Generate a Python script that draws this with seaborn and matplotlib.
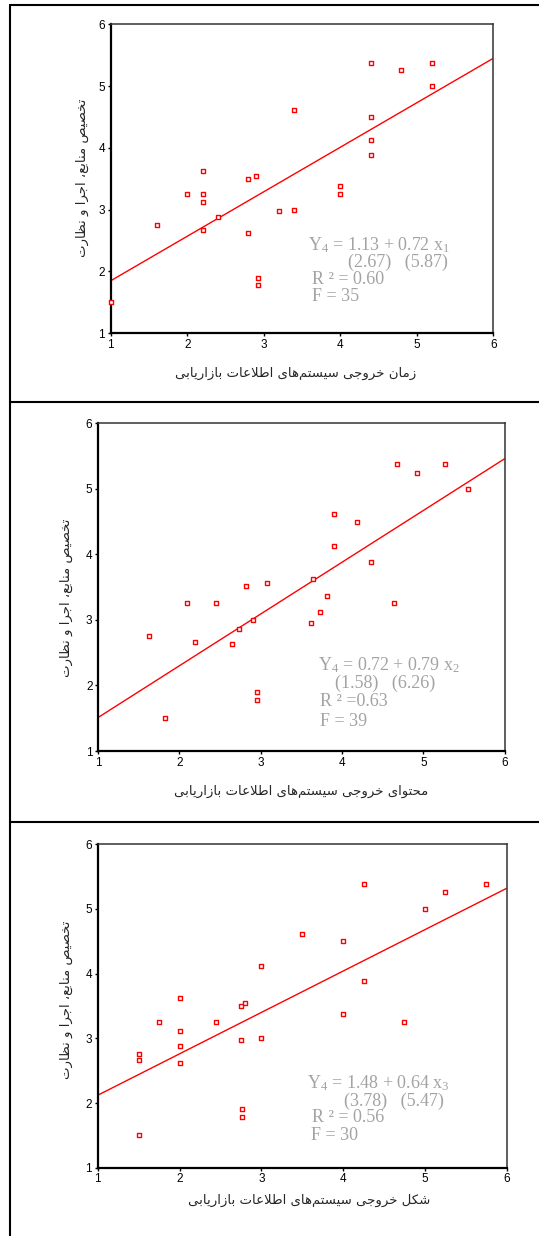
import matplotlib
matplotlib.use("Agg")
import matplotlib.pyplot as plt
from matplotlib.lines import Line2D
import seaborn as sns
import pandas as pd

# Data (same 25 respondents each)
x_time = [4.4, 4.8, 5.2, 5.2, 3.4, 4.4, 4.4, 4.4, 2.2, 2.9, 2.8, 4.0, 2.0, 2.2, 4.0,
          2.2, 3.2, 3.4, 2.4, 1.6, 2.2, 2.8, 2.92, 2.92, 1.0]
y_time = [5.38, 5.26, 5.38, 5.0, 4.62, 4.5, 4.12, 3.88, 3.62, 3.55, 3.5, 3.38, 3.26, 3.26, 3.26,
          3.12, 2.98, 3.0, 2.88, 2.76, 2.67, 2.62, 1.9, 1.78, 1.5]

x_content = [4.68, 4.92, 5.27, 5.55, 3.9, 4.19, 3.9, 4.36, 3.64, 3.08, 2.82, 3.81, 2.09, 2.45, 4.64,
             3.73, 2.91, 3.62, 2.73, 1.63, 2.19, 2.65, 2.96, 2.96, 1.82]
y_content = [5.38, 5.24, 5.38, 5.0, 4.62, 4.5, 4.13, 3.88, 3.63, 3.56, 3.51, 3.37, 3.26, 3.26, 3.26,
             3.12, 3.0, 2.96, 2.86, 2.75, 2.66, 2.63, 1.9, 1.78, 1.5]

x_form = [4.25, 5.25, 5.75, 5.0, 3.5, 4.0, 3.0, 4.25, 2.0, 2.8, 2.75, 4.0, 1.75, 2.45, 4.75,
          2.0, 2.75, 3.0, 2.0, 1.5, 1.5, 2.0, 2.77, 2.77, 1.5]
y_form = [5.38, 5.26, 5.38, 5.0, 4.62, 4.5, 4.12, 3.88, 3.62, 3.55, 3.5, 3.38, 3.26, 3.26, 3.26,
          3.12, 2.98, 3.0, 2.88, 2.76, 2.66, 2.62, 1.9, 1.78, 1.5]

intercepts = [1.13, 0.72, 1.48]
slopes = [0.72, 0.79, 0.64]
t_values = [("2.67", "5.87"), ("1.58", "6.26"), ("3.78", "5.47")]
r2_labels = ["R ² = 0.60", "R ² =0.63", "R ² = 0.56"]
f_values = [35, 39, 30]

x_labels = ["زمان خروجی سیستم‌های اطلاعات بازاریابی",
            "محتوای خروجی سیستم‌های اطلاعات بازاریابی",
            "شکل خروجی سیستم‌های اطلاعات بازاریابی"]
y_label = "تخصیص منابع، اجرا و نظارت"
ticks = [1, 2, 3, 4, 5, 6]

# Minimal Arabic/Persian shaping (matplotlib does not join letters itself)
FORMS = {
    'ا': ('\uFE8D', '\uFE8E', None, None),
    'ب': ('\uFE8F', '\uFE90', '\uFE91', '\uFE92'),
    'ت': ('\uFE95', '\uFE96', '\uFE97', '\uFE98'),
    'ج': ('\uFE9D', '\uFE9E', '\uFE9F', '\uFEA0'),
    'ح': ('\uFEA1', '\uFEA2', '\uFEA3', '\uFEA4'),
    'خ': ('\uFEA5', '\uFEA6', '\uFEA7', '\uFEA8'),
    'ر': ('\uFEAD', '\uFEAE', None, None),
    'ز': ('\uFEAF', '\uFEB0', None, None),
    'س': ('\uFEB1', '\uFEB2', '\uFEB3', '\uFEB4'),
    'ش': ('\uFEB5', '\uFEB6', '\uFEB7', '\uFEB8'),
    'ص': ('\uFEB9', '\uFEBA', '\uFEBB', '\uFEBC'),
    'ط': ('\uFEC1', '\uFEC2', '\uFEC3', '\uFEC4'),
    'ظ': ('\uFEC5', '\uFEC6', '\uFEC7', '\uFEC8'),
    'ع': ('\uFEC9', '\uFECA', '\uFECB', '\uFECC'),
    'ل': ('\uFEDD', '\uFEDE', '\uFEDF', '\uFEE0'),
    'م': ('\uFEE1', '\uFEE2', '\uFEE3', '\uFEE4'),
    'ن': ('\uFEE5', '\uFEE6', '\uFEE7', '\uFEE8'),
    'ه': ('\uFEE9', '\uFEEA', '\uFEEB', '\uFEEC'),
    'و': ('\uFEED', '\uFEEE', None, None),
    'ی': ('\uFBFC', '\uFBFD', '\uFBFE', '\uFBFF'),
    'ک': ('\uFB8E', '\uFB8F', '\uFB90', '\uFB91'),
}
LAM_ALEF = ('\uFEFB', '\uFEFC')


def shape(text):
    def dual(c):
        return c in FORMS and FORMS[c][2] is not None

    out = []
    i = 0
    while i < len(text):
        c = text[i]
        if c == '\u200c':
            i += 1
            continue
        if c not in FORMS:
            out.append(c)
            i += 1
            continue
        link_prev = i > 0 and dual(text[i - 1])
        if c == 'ل' and i + 1 < len(text) and text[i + 1] == 'ا':
            out.append(LAM_ALEF[1] if link_prev else LAM_ALEF[0])
            i += 2
            continue
        nxt = text[i + 1] if i + 1 < len(text) else ''
        link_next = dual(c) and nxt in FORMS
        iso, fin, ini, med = FORMS[c]
        if link_prev and link_next:
            out.append(med)
        elif link_prev:
            out.append(fin)
        elif link_next:
            out.append(ini)
        else:
            out.append(iso)
        i += 1
    return ''.join(reversed(out))


sns.set_style("white")
plt.rcParams['font.family'] = ['Liberation Sans', 'DejaVu Sans']
plt.rcParams['mathtext.fontset'] = 'custom'
plt.rcParams['mathtext.rm'] = 'Liberation Serif'
plt.rcParams['mathtext.it'] = 'Liberation Serif'

W, H = 539, 1236
fig = plt.figure(figsize=(W / 100, H / 100), dpi=100)


def fx(px):
    return px / W


def fy(py):
    return 1 - py / H


# panel boxes (pixel extents of the axes) and label/annotation positions
panels = [
    dict(x=x_time, y=y_time, box=(110.7, 24.3, 493.3, 333.3),
         xlab=(295.6, 373), ylab=(82.5, 178.3),
         ann=[(3.58, 2.43), (4.105, 2.155), (3.63, 1.865), (3.63, 1.59)]),
    dict(x=x_content, y=y_content, box=(98, 423.3, 504.7, 751),
         xlab=(301.6, 791), ylab=(66.7, 598),
         ann=[(3.70, 2.31), (3.91, 2.03), (3.73, 1.76), (3.73, 1.45)]),
    dict(x=x_form, y=y_form, box=(97.7, 844.3, 506.7, 1167.7),
         xlab=(309.4, 1200), ylab=(66.7, 1000),
         ann=[(3.56, 2.305), (4.01, 2.02), (3.62, 1.78), (3.61, 1.505)]),
]

gray = '#a3a3a3'
for k, p in enumerate(panels):
    l, t, r, b = p['box']
    ax = fig.add_axes([fx(l), fy(b), (r - l) / W, (b - t) / H])
    df = pd.DataFrame({'x': p['x'], 'y': p['y']})
    sns.scatterplot(data=df, x='x', y='y', ax=ax, marker='s', s=10,
                    facecolor='white', edgecolor='red', linewidth=1.0, zorder=3,
                    clip_on=False)
    ax.axline((0, intercepts[k]), slope=slopes[k], color='red', lw=1.0, zorder=2)
    ax.set_xlim(1, 6)
    ax.set_ylim(1, 6)
    ax.set_xticks(ticks)
    ax.set_yticks(ticks)
    ax.set_xlabel('')
    ax.set_ylabel('')
    ax.tick_params(direction='out', length=2.5, width=1, pad=1.5, labelsize=8.5,
                   bottom=True, left=True, colors='black')
    for side in ['left', 'bottom']:
        ax.spines[side].set_linewidth(1.6)
        ax.spines[side].set_color('black')
    for side in ['top', 'right']:
        ax.spines[side].set_linewidth(1.1)
        ax.spines[side].set_color('#333333')

    lines = [f"Y$_4$ = {intercepts[k]:.2f} + {slopes[k]:.2f} x$_{k + 1}$",
             f"({t_values[k][0]})   ({t_values[k][1]})",
             r2_labels[k],
             f"F = {f_values[k]}"]
    for (ax_x, ax_y), txt in zip(p['ann'], lines):
        ax.text(ax_x, ax_y, txt, color=gray, fontsize=13, ha='left', va='center',
                family='Liberation Serif')

    fig.text(fx(p['xlab'][0]), fy(p['xlab'][1]), shape(x_labels[k]), ha='center', va='center',
             fontsize=9.5, family=['DejaVu Sans'])
    fig.text(fx(p['ylab'][0]), fy(p['ylab'][1]), shape(y_label), ha='center', va='center',
             rotation=90, fontsize=9.5, family=['DejaVu Sans'])

# outer frame lines around the panels
for py in [5, 401.7, 821.7]:
    fig.add_artist(Line2D([fx(10), 1], [fy(py), fy(py)], transform=fig.transFigure,
                          color='black', lw=1.5))
fig.add_artist(Line2D([fx(10), fx(10)], [fy(5), 0], transform=fig.transFigure,
                      color='black', lw=1.5))

fig.savefig('out.png', dpi=100)
